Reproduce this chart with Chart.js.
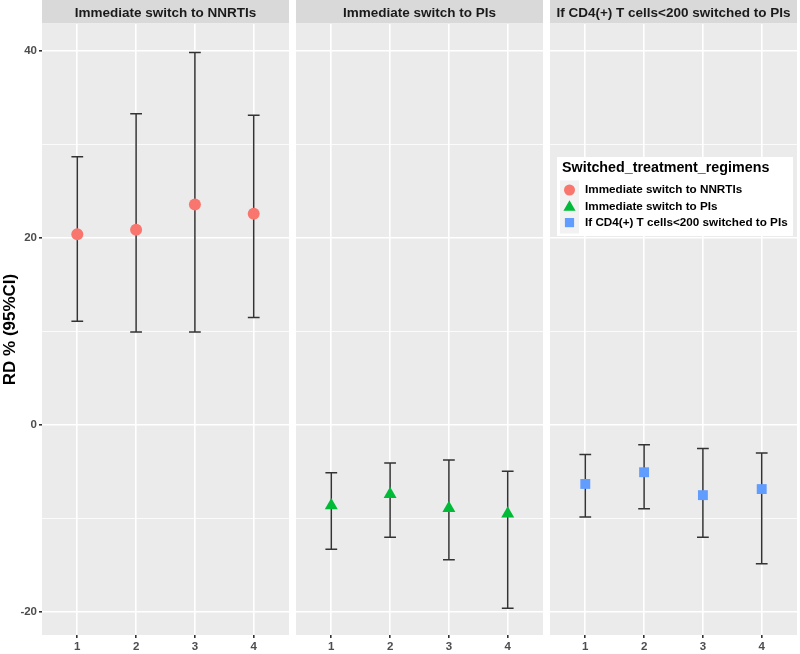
<!DOCTYPE html>
<html>
<head>
<meta charset="utf-8">
<script src="https://cdn.jsdelivr.net/npm/chart.js@4.4.0/dist/chart.umd.min.js"></script>
<style>
  body { margin: 0; background: #fff; width: 800px; height: 654px; position: relative; overflow: hidden; }
  canvas { position: absolute; top: 0; }
</style>
</head>
<body>
<canvas id="p1" style="left:0px" width="289" height="654"></canvas>
<canvas id="p2" style="left:296px" width="247" height="654"></canvas>
<canvas id="p3" style="left:550px" width="247" height="654"></canvas>
<script>
const FONT = '"Liberation Sans", Arial, sans-serif';

// categories / tick labels
const xValues = [1, 2, 3, 4];
const yTicks = [-20, -10, 0, 10, 20, 30, 40];
const panelTitles = [
  "Immediate switch to NNRTIs",
  "Immediate switch to PIs",
  "If CD4(+) T cells<200 switched to PIs",
];
const legendTitle = "Switched_treatment_regimens";

// RD % with 95% CI
const nnrtiRD = [20.4, 20.9, 23.6, 22.6];
const nnrtiLow = [11.1, 9.95, 9.95, 11.5];
const nnrtiHigh = [28.7, 33.3, 39.85, 33.15];

const piRD = [-8.6, -7.4, -8.9, -9.5];
const piLow = [-13.3, -12.0, -14.4, -19.6];
const piHigh = [-5.1, -4.05, -3.75, -4.95];

const cd4RD = [-6.3, -5.05, -7.5, -6.85];
const cd4Low = [-9.85, -8.95, -12.0, -14.85];
const cd4High = [-3.15, -2.1, -2.5, -3.0];

const COLORS = ["#F8766D", "#00BA38", "#619CFF"];
const SHAPES = ["circle", "triangle", "rect"];
const RADII = [6, 7.5, 7];

const panelBg = {
  id: "panelBg",
  beforeDraw(chart, args, opts) {
    const { ctx, chartArea: a } = chart;
    ctx.save();
    ctx.fillStyle = "#EBEBEB";
    ctx.fillRect(a.left, a.top, a.right - a.left, a.bottom - a.top);
    // facet strip
    ctx.fillStyle = "#D9D9D9";
    ctx.fillRect(a.left, 0, a.right - a.left, a.top - 0.5);
    ctx.fillStyle = "#1A1A1A";
    ctx.font = "bold 13.5px " + FONT;
    ctx.textAlign = "center";
    ctx.textBaseline = "middle";
    ctx.fillText(opts.title, (a.left + a.right) / 2, 13);
    ctx.restore();
  },
};

const errorBars = {
  id: "errorBars",
  beforeDatasetsDraw(chart) {
    const { ctx, scales } = chart;
    const halfW = 0.1;
    ctx.save();
    ctx.strokeStyle = "#333333";
    ctx.lineWidth = 1.5;
    chart.data.datasets.forEach((ds) => {
      ds.data.forEach((p, i) => {
        const x = scales.x.getPixelForValue(p.x);
        const xl = scales.x.getPixelForValue(p.x - halfW);
        const xr = scales.x.getPixelForValue(p.x + halfW);
        const yl = scales.y.getPixelForValue(ds.lower[i]);
        const yh = scales.y.getPixelForValue(ds.upper[i]);
        ctx.beginPath();
        ctx.moveTo(x, yl); ctx.lineTo(x, yh);
        ctx.moveTo(xl, yl); ctx.lineTo(xr, yl);
        ctx.moveTo(xl, yh); ctx.lineTo(xr, yh);
        ctx.stroke();
      });
    });
    ctx.restore();
  },
};

function drawShape(ctx, shape, x, y, r) {
  ctx.beginPath();
  if (shape === "circle") {
    ctx.arc(x, y, r, 0, Math.PI * 2);
  } else if (shape === "triangle") {
    ctx.moveTo(x, y - r);
    ctx.lineTo(x + r * 0.866, y + r * 0.5);
    ctx.lineTo(x - r * 0.866, y + r * 0.5);
    ctx.closePath();
  } else {
    ctx.rect(x - r * 0.707, y - r * 0.707, r * 1.414, r * 1.414);
  }
  ctx.fill();
}

// legend sits inside the third panel (canvas coords)
const legendBox = {
  id: "legendBox",
  afterDraw(chart) {
    const ctx = chart.ctx;
    const left = 7, top = 157, w = 236, h = 79;
    ctx.save();
    ctx.fillStyle = "#FFFFFF";
    ctx.fillRect(left, top, w, h);
    ctx.fillStyle = "#000000";
    ctx.font = "bold 14.3px " + FONT;
    ctx.textBaseline = "middle";
    ctx.fillText(legendTitle, left + 5, 168);
    ctx.fillStyle = "#F2F2F2";
    ctx.fillRect(left + 3, 180.5, 19, 53);
    ctx.font = "bold 11.7px " + FONT;
    panelTitles.forEach((t, i) => {
      const cy = 190 + i * 16.3;
      ctx.fillStyle = COLORS[i];
      drawShape(ctx, SHAPES[i], left + 12.5, cy + (SHAPES[i] === "triangle" ? 1 : 0), RADII[i] - 0.5);
      ctx.fillStyle = "#000000";
      ctx.fillText(t, left + 28, cy);
    });
    ctx.restore();
  },
};

function makePanel(id, idx, rd, low, high, showY) {
  const plugins = [panelBg, errorBars];
  if (idx === 2) plugins.push(legendBox);
  return new Chart(document.getElementById(id), {
    type: "scatter",
    data: {
      datasets: [{
        data: xValues.map((x, i) => ({ x: x, y: rd[i] })),
        lower: low,
        upper: high,
        pointStyle: SHAPES[idx],
        pointRadius: RADII[idx],
        backgroundColor: COLORS[idx],
        borderColor: COLORS[idx],
        borderWidth: 0,
      }],
    },
    options: {
      responsive: false,
      animation: false,
      events: [],
      layout: { autoPadding: false, padding: { top: 24, left: 0, right: 0, bottom: 0 } },
      plugins: {
        legend: { display: false },
        tooltip: { enabled: false },
        panelBg: { title: panelTitles[idx] },
      },
      scales: {
        x: {
          type: "linear",
          min: 0.4,
          max: 4.6,
          afterBuildTicks: (s) => { s.ticks = xValues.map((v) => ({ value: v })); },
          afterFit: (s) => { s.height = 19; },
          border: { display: false },
          grid: { color: "#FFFFFF", lineWidth: 1.6, tickColor: "#333333", tickLength: 3 },
          ticks: {
            color: "#4D4D4D",
            font: { family: FONT, size: 11.5, weight: "bold" },
            padding: 2,
            maxRotation: 0,
          },
        },
        y: {
          min: -22.46,
          max: 42.9,
          afterBuildTicks: (s) => { s.ticks = yTicks.map((v) => ({ value: v })); },
          afterFit: (s) => { s.width = showY ? 42 : 0; },
          border: { display: false },
          grid: {
            color: "#FFFFFF",
            lineWidth: (c) => (c.tick && c.tick.value % 20 === 0 ? 1.6 : 0.8),
            drawTicks: showY,
            tickColor: (c) => (c.tick && c.tick.value % 20 === 0 ? "#333333" : "rgba(0,0,0,0)"),
            tickLength: 3,
          },
          ticks: {
            display: showY,
            color: "#4D4D4D",
            font: { family: FONT, size: 11.5, weight: "bold" },
            padding: 2,
            callback: (v) => (v % 20 === 0 ? String(v) : ""),
          },
          title: {
            display: showY,
            text: "RD % (95%CI)",
            color: "#000000",
            font: { family: FONT, size: 17, weight: "bold" },
            padding: { top: 0, bottom: 2 },
          },
        },
      },
    },
    plugins: plugins,
  });
}

makePanel("p1", 0, nnrtiRD, nnrtiLow, nnrtiHigh, true);
makePanel("p2", 1, piRD, piLow, piHigh, false);
makePanel("p3", 2, cd4RD, cd4Low, cd4High, false);
</script>
</body>
</html>
